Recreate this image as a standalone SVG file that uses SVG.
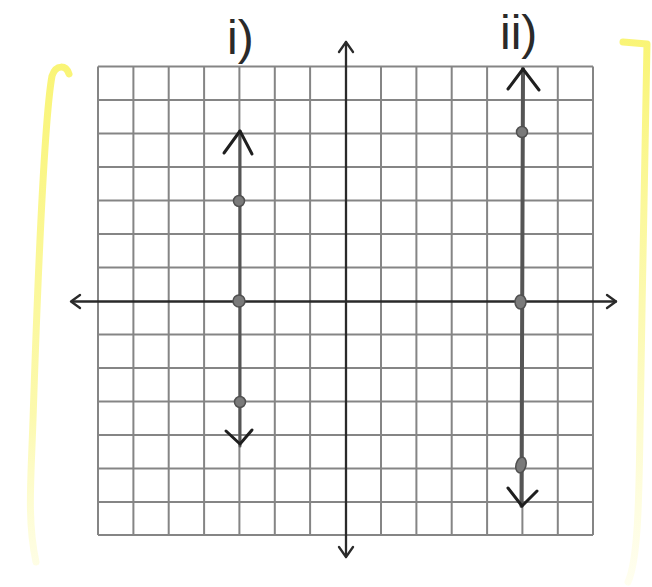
<svg xmlns="http://www.w3.org/2000/svg" width="652" height="587" viewBox="0 0 652 587">
<defs>
<style>
.grid{stroke:#858585;stroke-width:2;fill:none}
.axis{stroke:#2a2a2a;stroke-width:2.3;fill:none;stroke-linecap:round;stroke-linejoin:round}
.gline{stroke:#555;fill:none;stroke-linecap:round}
.head{stroke:#1f1f1f;stroke-width:3;fill:none;stroke-linecap:round;stroke-linejoin:round}
.pt{fill:#7a7a7a;stroke:#505050;stroke-width:1.5}
.lbl{font-family:"Liberation Sans",Arial,sans-serif;font-size:48px;fill:#2a2a2a}
.hl{fill:none;stroke-width:7;stroke-linecap:round;stroke-linejoin:round}
</style>
<linearGradient id="yl" x1="0" y1="0" x2="0" y2="1">
<stop offset="0" stop-color="#f7f03c" stop-opacity="0.7"/>
<stop offset="0.7" stop-color="#f8f24a" stop-opacity="0.45"/>
<stop offset="1" stop-color="#fbf77a" stop-opacity="0.2"/>
</linearGradient>
<linearGradient id="yr" x1="0" y1="0" x2="0" y2="1">
<stop offset="0" stop-color="#f7f03c" stop-opacity="0.7"/>
<stop offset="0.55" stop-color="#f8f24a" stop-opacity="0.4"/>
<stop offset="1" stop-color="#fbf77a" stop-opacity="0.12"/>
</linearGradient>
</defs>
<rect width="652" height="587" fill="#ffffff"/>

<g id="highlights">
<path class="hl" stroke="url(#yl)" d="M 69 74 C 66 65, 56 64, 52 76 C 44 120, 37 300, 33 420 C 31 480, 27 520, 36 562"/>
<path class="hl" stroke="url(#yr)" d="M 623 42 L 647 44 C 645 150, 642 300, 640 430 C 639 500, 638 560, 628 582"/>
</g>

<g id="grid">
<path class="grid" d="M98 66.5V535M133.4 66.5V535M168.7 66.5V535M204.1 66.5V535M239.4 66.5V535M274.8 66.5V535M310.1 66.5V535M381 66.5V535M416.4 66.5V535M451.7 66.5V535M487.1 66.5V535M522.4 66.5V535M557.8 66.5V535M593 66.5V535"/>
<path class="grid" d="M98 66.5H593M98 100H593M98 133.5H593M98 167H593M98 200.5H593M98 234H593M98 267.5H593M98 334.5H593M98 368H593M98 401.5H593M98 435H593M98 468.5H593M98 502H593M98 535H593"/>
</g>

<g id="axes">
<path class="axis" d="M346 42V557M72 301.5H616"/>
<path class="axis" stroke-width="2.5" d="M339 52L346 42L353 52M339 547L346 557L353 547M80 295L71 301.5L80 308M607 295L616 301.5L607 308"/>
</g>

<g id="line-i">
<path class="gline" stroke-width="3" d="M240 131V446"/>
<path class="head" d="M224 153L240 131L252 154"/>
<path class="head" d="M226 431L240 444L252 430"/>
<circle class="pt" cx="239" cy="201" r="5.5"/>
<circle class="pt" cx="239" cy="301" r="6"/>
<circle class="pt" cx="240" cy="402" r="5.5"/>
</g>

<g id="line-ii">
<path class="gline" stroke-width="4" d="M523 69L521.5 506"/>
<path class="head" d="M508 89L523 69L539 90"/>
<path class="head" d="M508 488L522 506L537 491"/>
<circle class="pt" cx="522" cy="132" r="5.5"/>
<ellipse class="pt" cx="520.5" cy="302" rx="5.5" ry="7"/>
<ellipse class="pt" cx="521" cy="465" rx="5" ry="8" transform="rotate(15 521 465)"/>
</g>

<g id="labels">
<text class="lbl" x="227" y="54">i)</text>
<text class="lbl" x="500" y="49">ii)</text>
</g>
</svg>
